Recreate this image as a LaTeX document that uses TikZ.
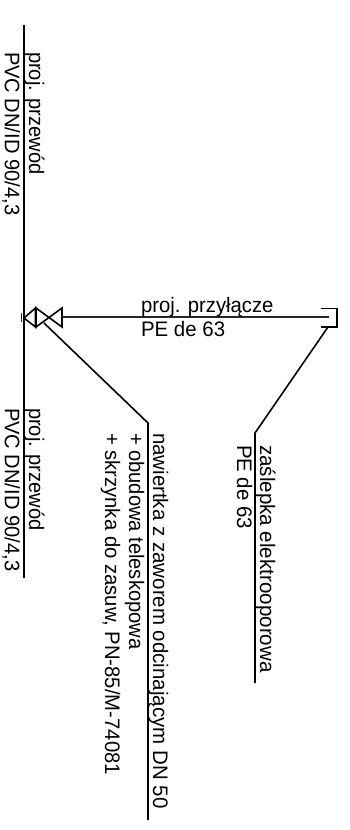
\documentclass[tikz,border=0pt]{standalone}
\usepackage{fontspec}
\setmainfont{Liberation Sans}
\newcommand{\sq}[2][.958]{\scalebox{#1}[1]{#2}}
\tikzset{
  lbl/.style={font=\fontsize{21}{21}\selectfont,inner sep=0pt,outer sep=0pt,anchor=base west,text=black},
  vlbl/.style={lbl,rotate=-90},
  ln/.style={draw=black,line width=1.6pt},
  gln/.style={draw=black!85,line width=1.7pt}
}
\begin{document}
\begin{tikzpicture}[x=1pt,y=-1pt]
\useasboundingbox[fill=white] (0,0) rectangle (350,830);
% pipe
\coordinate (pipeT) at (24,25);
\coordinate (pipeB) at (24,578);
\draw[ln] (pipeT) -- (pipeB);
% end tick
\coordinate (tickT) at (21.5,313);
\coordinate (tickB) at (21.5,322);
\draw[gln] (tickT) -- (tickB);
% tee triangle
\coordinate (apex) at (24,318);
\coordinate (a1) at (35.5,308);
\coordinate (a2) at (35.5,327);
\draw[ln,line join=miter] (apex) -- (a1) -- (a2) -- cycle;
% valve
\coordinate (v1) at (36,308);
\coordinate (v2) at (36,327);
\coordinate (v3) at (62,308);
\coordinate (v4) at (62,327);
\draw[ln,line join=miter] (v1) -- (v2) -- (v3) -- (v4) -- cycle;
% connection line
\coordinate (vm) at (62,317.3);
\coordinate (capin) at (329,317.3);
\draw[gln] (vm) -- (capin);
% cap
\coordinate (c1) at (321,308.5);
\coordinate (c2) at (337,308.5);
\coordinate (c3) at (337,327);
\coordinate (c4) at (321,327);
\draw[ln] (c1) -- (c2) -- (c3) -- (c4);
% leaders
\coordinate (d1) at (328,327);
\coordinate (d2) at (255,433);
\coordinate (d3) at (255,683);
\draw[ln] (d1) -- (d2) -- (d3);
\coordinate (e1) at (44,323);
\coordinate (e2) at (148,423);
\coordinate (e3) at (148,820);
\draw[ln] (e1) -- (e2) -- (e3);
% labels
\node[vlbl] (t1) at (29,52) {\sq{proj. przewód}};
\node[vlbl] (t2) at (5,52) {\sq{PVC DN/ID 90/4,3}};
\node[vlbl] (t3) at (29,408) {\sq{proj. przewód}};
\node[vlbl] (t4) at (5,408) {\sq{PVC DN/ID 90/4,3}};
\node[lbl] (t5) at (141,312) {\sq[.965]{proj. przyłącze}};
\node[lbl] (t6) at (141,336) {\sq[.975]{PE de 63}};
\node[vlbl] (t7) at (260,445) {\sq[.98]{zaślepka elektrooporowa}};
\node[vlbl] (t8) at (237,445) {\sq[.975]{PE de 63}};
\node[vlbl] (t9) at (153,433) {\sq[.975]{nawiertka z zaworem odcinającym DN 50}};
\node[vlbl] (t10) at (129,433) {\sq{+ obudowa teleskopowa}};
\node[vlbl] (t11) at (105,433) {\sq[.965]{+ skrzynka do zasuw, PN-85/M-74081}};
\end{tikzpicture}
\end{document}
